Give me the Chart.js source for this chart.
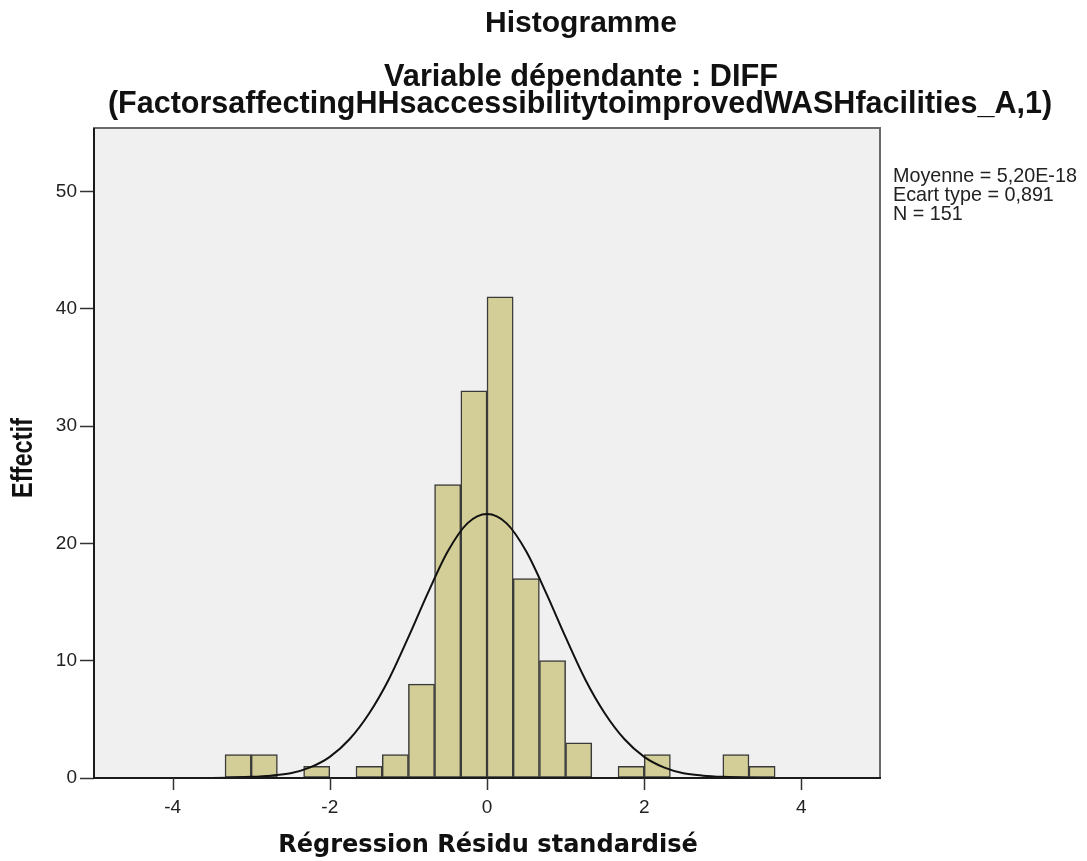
<!DOCTYPE html>
<html>
<head>
<meta charset="utf-8">
<title>Histogramme</title>
<script src="https://cdn.jsdelivr.net/npm/chart.js@4.4.1/dist/chart.umd.min.js"></script>
<style>
    body { margin: 0; background: #ffffff; }
    #wrap { width: 1087px; height: 861px; position: relative; }
</style>
</head>
<body>
<div id="wrap"><canvas id="histChart"></canvas></div>
<script>
// Histogram bins (lower edge of each bin) and counts
const binWidth = 1 / 3;
const binStarts = [-3.333, -3.0, -2.333, -1.667, -1.333, -1.0, -0.667, -0.333, 0, 0.333, 0.667, 1.0, 1.667, 2.0, 3.0, 3.333];
const binCounts = [2, 2, 1, 1, 2, 8, 25, 33, 41, 17, 10, 3, 1, 2, 2, 1];

// Normal curve
const curveX = [-5, -4, -3.5, -3, -2.75, -2.5, -2.25, -2, -1.75, -1.5, -1.25, -1, -0.75, -0.5, -0.25, 0, 0.25, 0.5, 0.75, 1, 1.25, 1.5, 1.75, 2, 2.25, 2.5, 2.75, 3, 3.5, 4, 5];
const curveY = [0, 0, 0, 0.1, 0.2, 0.4, 0.9, 1.8, 3.3, 5.5, 8.4, 12.0, 15.8, 19.3, 21.7, 22.5, 21.7, 19.3, 15.8, 12.0, 8.4, 5.5, 3.3, 1.8, 0.9, 0.4, 0.2, 0.1, 0, 0, 0];

// Axis ticks
const xTicks = [-4, -2, 0, 2, 4];
const yTicks = [0, 10, 20, 30, 40, 50];

// Texts
const titleLines = ["Histogramme", "Variable dépendante : DIFF", "(FactorsaffectingHHsaccessibilitytoimprovedWASHfacilities_A,1)"];
const statLines = ["Moyenne = 5,20E-18", "Ecart type = 0,891", "N = 151"];
const xTitle = "Régression Résidu standardisé";
const yTitle = "Effectif";


// Draw a text sized so that it takes a given width
function fitText(ctx, text, x, y, weight, family, width, align) {
    ctx.font = weight + " 20px " + family;
    const size = 20 * width / ctx.measureText(text).width;
    ctx.font = weight + " " + size.toFixed(2) + "px " + family;
    ctx.textAlign = align || "center";
    ctx.textBaseline = "middle";
    ctx.fillText(text, x, y);
    return size;
}

const decorPlugin = {
    id: "decor",
    beforeDraw(chart) {
        const ctx = chart.ctx;
        const a = chart.chartArea;
        ctx.save();
        ctx.fillStyle = "#ffffff";
        ctx.fillRect(0, 0, chart.width, chart.height);
        ctx.fillStyle = "#f0f0f0";
        ctx.fillRect(a.left, a.top, a.right - a.left, a.bottom - a.top);
        ctx.restore();
    },
    afterDraw(chart) {
        const ctx = chart.ctx;
        const a = chart.chartArea;
        const xScale = chart.scales.x;
        ctx.save();

        // frame
        ctx.strokeStyle = "#6a6a6a";
        ctx.lineWidth = 2;
        ctx.strokeRect(a.left, a.top, a.right - a.left, a.bottom - a.top);
        ctx.strokeStyle = "#1a1a1a";
        ctx.beginPath();
        ctx.moveTo(a.left - 1, a.bottom);
        ctx.lineTo(a.right + 1, a.bottom);
        ctx.moveTo(a.left, a.top);
        ctx.lineTo(a.left, a.bottom);
        ctx.stroke();

        // x tick marks
        ctx.strokeStyle = "#333333";
        ctx.lineWidth = 1.5;
        ctx.beginPath();
        xTicks.forEach(v => {
            const px = Math.round(xScale.getPixelForValue(v)) + 0.5;
            ctx.moveTo(px, a.bottom);
            ctx.lineTo(px, a.bottom + 12);
        });
        ctx.stroke();

        ctx.fillStyle = "#111111";

        // titles
        fitText(ctx, titleLines[0], 581, 24, "bold", "'Liberation Sans', Arial", 192);
        fitText(ctx, titleLines[1], 581, 78, "bold", "'Liberation Sans', Arial", 394);
        fitText(ctx, titleLines[2], 580, 105, "bold", "'Liberation Sans', Arial", 944);

        // axis titles
        fitText(ctx, xTitle, 488, 846, "bold", "'DejaVu Sans'", 420);
        ctx.save();
        ctx.translate(24, 458);
        ctx.rotate(-Math.PI / 2);
        ctx.scale(1, 1.25);
        fitText(ctx, yTitle, 0, 0, "bold", "'Liberation Sans', Arial", 80);
        ctx.restore();

        // stats box
        ctx.fillStyle = "#222222";
        const size = fitText(ctx, statLines[0], 893, 177, "normal", "'Liberation Sans', Arial", 184, "left");
        ctx.font = size.toFixed(2) + "px 'Liberation Sans', Arial";
        ctx.fillText(statLines[1], 893, 196);
        ctx.fillText(statLines[2], 893, 215);

        ctx.restore();
    }
};

const ctx = document.getElementById("histChart");

const chart = new Chart(ctx, {
    type: "bar",
    data: {
        datasets: [
            {
                type: "line",
                data: curveX.map((x, i) => ({ x: x, y: curveY[i] })),
                borderColor: "#111111",
                borderWidth: 2,
                pointRadius: 0,
                fill: false,
                cubicInterpolationMode: "monotone",
                order: 0
            },
            {
                type: "bar",
                data: binStarts.map((s, i) => ({ x: s + binWidth / 2, y: binCounts[i] })),
                backgroundColor: "#d3ce97",
                borderColor: "#3a3a3a",
                borderWidth: 1.5,
                borderSkipped: false,
                barPercentage: 1,
                categoryPercentage: 1,
                order: 1
            }
        ]
    },
    options: {
        responsive: true,
        maintainAspectRatio: false,
        animation: false,
        layout: { padding: { left: 0, top: 128, right: 207, bottom: 0 } },
        plugins: {
            legend: { display: false },
            tooltip: { enabled: false }
        },
        scales: {
            x: {
                type: "linear",
                min: -5,
                max: 5,
                offset: false,
                afterFit(scale) { scale.height = 83; },
                afterBuildTicks(scale) { scale.ticks = xTicks.map(v => ({ value: v })); },
                grid: { offset: false, drawOnChartArea: false, drawTicks: true, tickLength: 12, tickColor: "rgba(0,0,0,0)" },
                border: { display: false },
                ticks: {
                    padding: 6,
                    color: "#222222",
                    font: { family: "'Liberation Sans', Arial", size: 19 },
                    maxRotation: 0
                }
            },
            y: {
                min: 0,
                max: 55.4,
                afterFit(scale) { scale.width = 94; },
                afterBuildTicks(scale) { scale.ticks = yTicks.map(v => ({ value: v })); },
                grid: { drawOnChartArea: false, drawTicks: true, tickLength: 14, tickWidth: 1.5, tickColor: "#333333" },
                border: { display: false },
                ticks: {
                    padding: 3,
                    color: "#222222",
                    font: { family: "'Liberation Sans', Arial", size: 19 }
                }
            }
        }
    },
    plugins: [decorPlugin]
});
</script>
</body>
</html>
